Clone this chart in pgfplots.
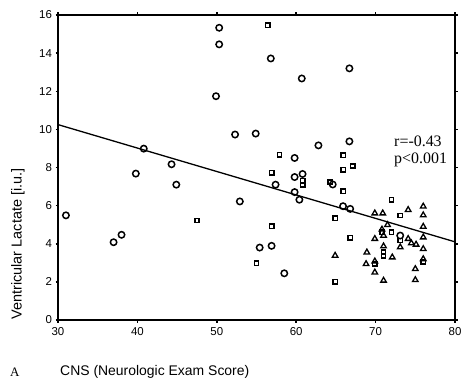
\documentclass[border=0pt]{standalone}
\usepackage{pgfplots}
\pgfplotsset{compat=1.18}
\usepackage{fontspec}
\setmainfont{Liberation Sans}
\newfontfamily\seriffont{Liberation Serif}
\begin{document}
\begin{tikzpicture}[x=1bp,y=1bp]
\useasboundingbox (-58,-59) rectangle (405,320);
\begin{axis}[
  at={(0,0)}, anchor=south west,
  width=397bp, height=305bp, scale only axis=true,
  xmin=30, xmax=80, ymin=0, ymax=16,
  xtick={30,40,50,60,70,80}, ytick={0,2,4,6,8,10,12,14,16},
  tick align=outside, major tick length=2.5bp,
  tick style={line width=1.5bp, black},
  axis line style={line width=1.4bp},
  tick label style={font=\fontsize{11.5}{13}\selectfont},
  /pgf/number format/assume math mode=true,
  xticklabel style={yshift=-1bp},
  clip=false,
]
\addplot[black, line width=1.3bp, no marks] coordinates {(30,10.25) (80,4.1)};
\addplot[only marks, mark=o, mark size=3.2bp, mark options={line width=1.5bp, black}] coordinates {
(31.0,5.49) (37.0,4.08) (38.0,4.47) (39.8,7.68) (40.8,8.99) (44.3,8.17) (44.9,7.10)
(49.9,11.74) (50.3,15.33) (50.3,14.46) (52.3,9.73) (52.9,6.22) (54.9,9.78) (55.4,3.80)
(56.8,13.72) (56.9,3.89) (57.4,7.10) (58.5,2.45) (59.8,8.50) (59.8,7.50) (59.8,6.71)
(60.4,6.31) (60.7,12.67) (60.8,7.66) (62.8,9.16) (64.6,7.11) (65.9,5.97) (66.7,13.20)
(66.7,9.37) (66.8,5.83) (73.1,4.43)
};
\addplot[only marks, mark=square, mark size=2.2bp, mark options={line width=1.5bp, black}] coordinates {
(47.5,5.22) (55.0,2.98) (56.4,15.47) (56.9,7.73) (56.9,4.92) (57.9,8.67) (60.8,7.30)
(60.8,7.10) (64.3,7.24) (64.9,5.34) (64.9,2.01) (65.9,8.64) (65.9,7.89) (65.9,6.76)
(66.8,4.31) (67.1,8.08) (72.0,6.31) (73.1,5.48) (72.0,4.60) (70.8,4.60) (73.1,4.17)
(71.0,3.55) (71.0,3.38) (69.9,2.94) (76.0,3.05)
};
\addplot[only marks, mark=triangle, mark size=3.2bp, mark options={line width=1.3bp, black}] coordinates {
(64.9,3.38) (74.1,5.78) (76.0,5.96) (76.0,5.50) (69.9,5.60) (70.9,5.60) (71.5,4.99)
(76.0,4.90) (71.0,4.43) (70.8,4.75) (74.1,4.26) (76.0,4.34) (69.9,4.26) (74.5,4.03)
(75.1,3.96) (73.1,3.82) (76.0,3.73) (71.0,3.87) (68.9,3.55) (72.1,3.29) (69.9,3.08)
(68.8,2.94) (76.0,3.20) (75.0,2.68) (69.9,2.50) (71.0,2.07) (75.0,2.10)
};
\end{axis}
\node[anchor=base west, inner sep=0pt, font=\seriffont\fontsize{16}{18}\selectfont] at (336,174) {r=-0.43};
\node[anchor=base west, inner sep=0pt, font=\seriffont\fontsize{16}{18}\selectfont] at (336,157) {p<0.001};
\node[anchor=base west, inner sep=0pt, font=\seriffont\fontsize{13}{15}\selectfont] at (-48,-56) {A};
\node[anchor=base west, inner sep=0pt, font=\fontsize{14}{16}\selectfont] at (2,-55) {CNS (Neurologic Exam Score)};
\node[rotate=90, inner sep=0pt, font=\fontsize{14.5}{16}\selectfont] at (-40,76) {Ventricular Lactate [i.u.]};
\end{tikzpicture}
\end{document}
